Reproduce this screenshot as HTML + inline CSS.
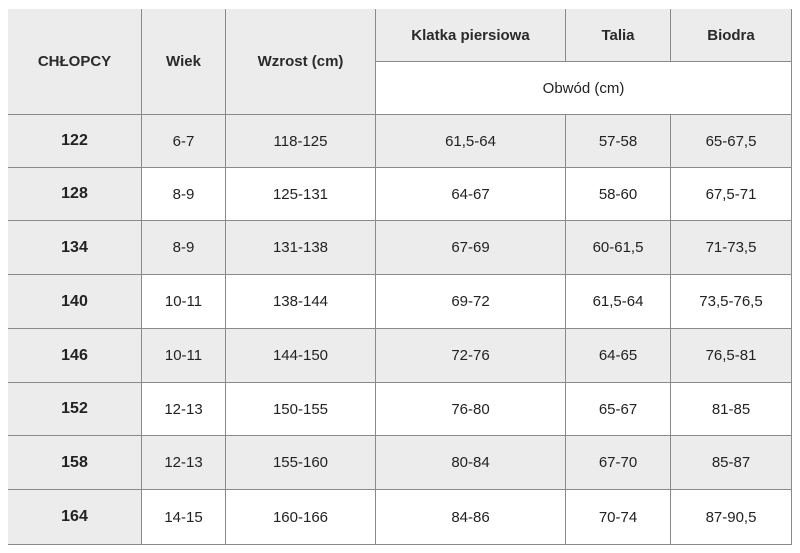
<!DOCTYPE html>
<html><head><meta charset="utf-8"><style>
body{margin:0;width:800px;height:553px;background:#fff;position:relative;font-family:"Liberation Sans",sans-serif;color:#222;overflow:hidden}
.c{position:absolute;box-sizing:border-box;display:flex;align-items:center;justify-content:center;font-size:15px;border-right:1px solid #8a8a8a;border-bottom:1px solid #8a8a8a}
.g{background:#ececec}
.b{font-weight:bold;font-size:16px}
.h{font-size:15px;font-weight:bold;color:#2a2a2a}
</style></head><body>
<div style="position:absolute;left:8px;top:9px;width:784px;height:536px;border:1px solid #aaa;border-right:none;border-bottom:none;box-sizing:border-box"></div>
<div id="t"></div>
<script>
var X=[8,142,226,376,566,671,792];
var Y=[9,115,168,221,275,329,383,436,490,545];
var h='';
function cell(x1,y1,x2,y2,txt,cls){h+='<div class="c '+cls+'" style="left:'+x1+'px;top:'+y1+'px;width:'+(x2-x1)+'px;height:'+(y2-y1)+'px">'+txt+'</div>';}
cell(X[0],9,X[1],115,'CHŁOPCY','g h');
cell(X[1],9,X[2],115,'Wiek','g h');
cell(X[2],9,X[3],115,'Wzrost (cm)','g h');
cell(X[3],9,X[4],62,'Klatka piersiowa','g h');
cell(X[4],9,X[5],62,'Talia','g h');
cell(X[5],9,X[6],62,'Biodra','g h');
cell(X[3],62,X[6],115,'Obwód (cm)','');
var d=[['122','6-7','118-125','61,5-64','57-58','65-67,5'],['128','8-9','125-131','64-67','58-60','67,5-71'],['134','8-9','131-138','67-69','60-61,5','71-73,5'],['140','10-11','138-144','69-72','61,5-64','73,5-76,5'],['146','10-11','144-150','72-76','64-65','76,5-81'],['152','12-13','150-155','76-80','65-67','81-85'],['158','12-13','155-160','80-84','67-70','85-87'],['164','14-15','160-166','84-86','70-74','87-90,5']];
for(var i=0;i<8;i++){for(var j=0;j<6;j++){var cls=(j==0?'g b':(i%2==0?'g':''));cell(X[j],Y[i+1],X[j+1],Y[i+2],d[i][j],cls);}}
document.getElementById('t').innerHTML=h;
</script>
</body></html>
